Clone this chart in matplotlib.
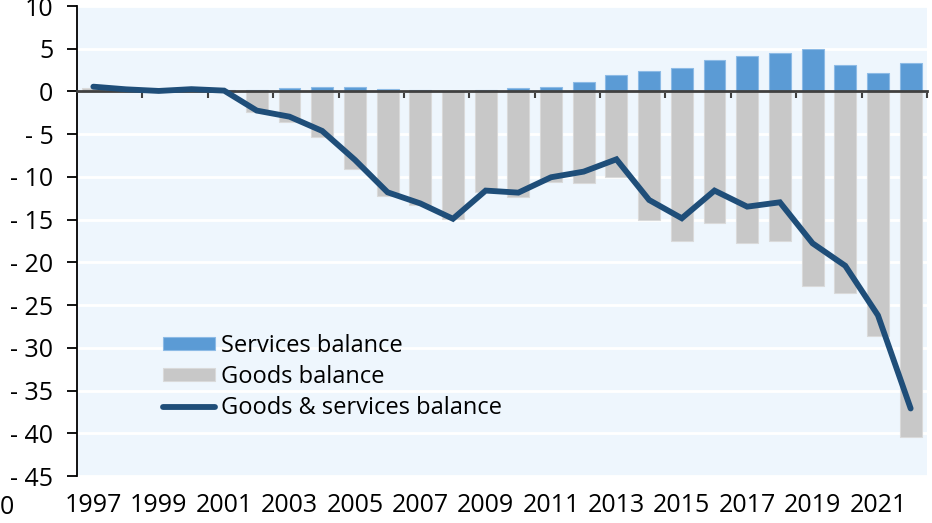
import numpy as np
import matplotlib.pyplot as plt
from matplotlib.ticker import FixedLocator, NullFormatter

plt.rcParams['font.family'] = ['Open Sans', 'DejaVu Sans']

# trade balance data
years = list(range(1997, 2023))
services = [0.1, 0.15, 0.15, 0.2, 0.2, 0.18, 0.37, 0.56, 0.56, 0.33, 0.18, 0.02, 0.2,
            0.37, 0.49, 1.11, 1.9, 2.4, 2.75, 3.65, 4.15, 4.47, 4.94, 3.1, 2.17, 3.3]
goods = [0.45, 0.1, -0.1, 0.05, -0.1, -2.4, -3.6, -5.3, -9.1, -12.2, -13.3, -14.96, -11.8,
         -12.3, -10.55, -10.67, -9.97, -15.1, -17.5, -15.35, -17.77, -17.5, -22.8, -23.6,
         -28.6, -40.4]
total = [0.56, 0.25, 0.06, 0.27, 0.1, -2.24, -2.95, -4.62, -8.0, -11.8, -13.1, -14.9, -11.6,
         -11.84, -10.04, -9.38, -7.94, -12.7, -14.84, -11.6, -13.48, -12.97, -17.77, -20.4,
         -26.2, -37.1]
yticks = list(range(-45, 11, 5))

BLUE = '#5B9BD5'
GREY = '#C8C8C8'
NAVY = '#1F4E79'
FS = 18

fig = plt.figure(figsize=(9.32, 5.23), dpi=100)
ax = fig.add_axes([77 / 932, 1 - 476 / 523, 850 / 932, 470 / 523])
ax.set_facecolor('#EEF6FD')

x = np.arange(len(years))
ax.bar(x, goods, width=0.67, color=GREY, edgecolor='#DADADA', linewidth=0.8,
       label='Goods balance', zorder=2)
ax.bar(x, services, width=0.67, color=BLUE, edgecolor='#8DBBE6', linewidth=0.8,
       label='Services balance', zorder=2)
ax.plot(x, total, color=NAVY, lw=4.2, solid_capstyle='round', solid_joinstyle='miter',
        label='Goods & services balance', zorder=4)

ax.set_xlim(-0.5, len(years) - 0.5)
ax.set_ylim(-45, 10)
ax.set_yticks(yticks)
ax.set_yticklabels([str(v).replace('-', '- ') if v < 0 else str(v) for v in yticks])
ax.yaxis.grid(True, color='white', lw=2)
ax.set_axisbelow(True)

# category axis sits on zero, ticks every second boundary
ax.spines['bottom'].set_position(('data', 0))
ax.spines['bottom'].set_color('#404040')
ax.spines['bottom'].set_linewidth(2)
ax.spines['bottom'].set_zorder(3)
ax.xaxis.set_major_locator(FixedLocator(np.arange(1.5, len(years), 2)))
ax.xaxis.set_major_formatter(NullFormatter())
ax.tick_params(axis='x', direction='out', length=5, width=1.5, color='#404040')
for s in ('top', 'right'):
    ax.spines[s].set_visible(False)
ax.spines['left'].set_linewidth(1.3)
ax.tick_params(axis='y', length=7, width=1.3, pad=10, labelsize=FS)

# year labels along the bottom
sec = ax.secondary_xaxis('bottom')
sec.set_xticks(x[::2])
sec.set_xticklabels([str(y) for y in years[::2]], fontsize=FS)
sec.tick_params(length=0, pad=12)
sec.spines['bottom'].set_visible(False)

fig.text(14 / 932, 1 - 508 / 523, '0', ha='right', va='center', fontsize=FS)

h, l = ax.get_legend_handles_labels()
order = [l.index('Services balance'), l.index('Goods balance'),
         l.index('Goods & services balance')]
ax.legend([h[i] for i in order], [l[i] for i in order], loc='upper left',
          bbox_to_anchor=(86 / 850, 1 - 328 / 470), frameon=False, fontsize=17,
          handlelength=2.2, handleheight=0.5, handletextpad=0.25, labelspacing=0.3,
          borderaxespad=0, borderpad=0)

fig.savefig('out.png', dpi=100)
